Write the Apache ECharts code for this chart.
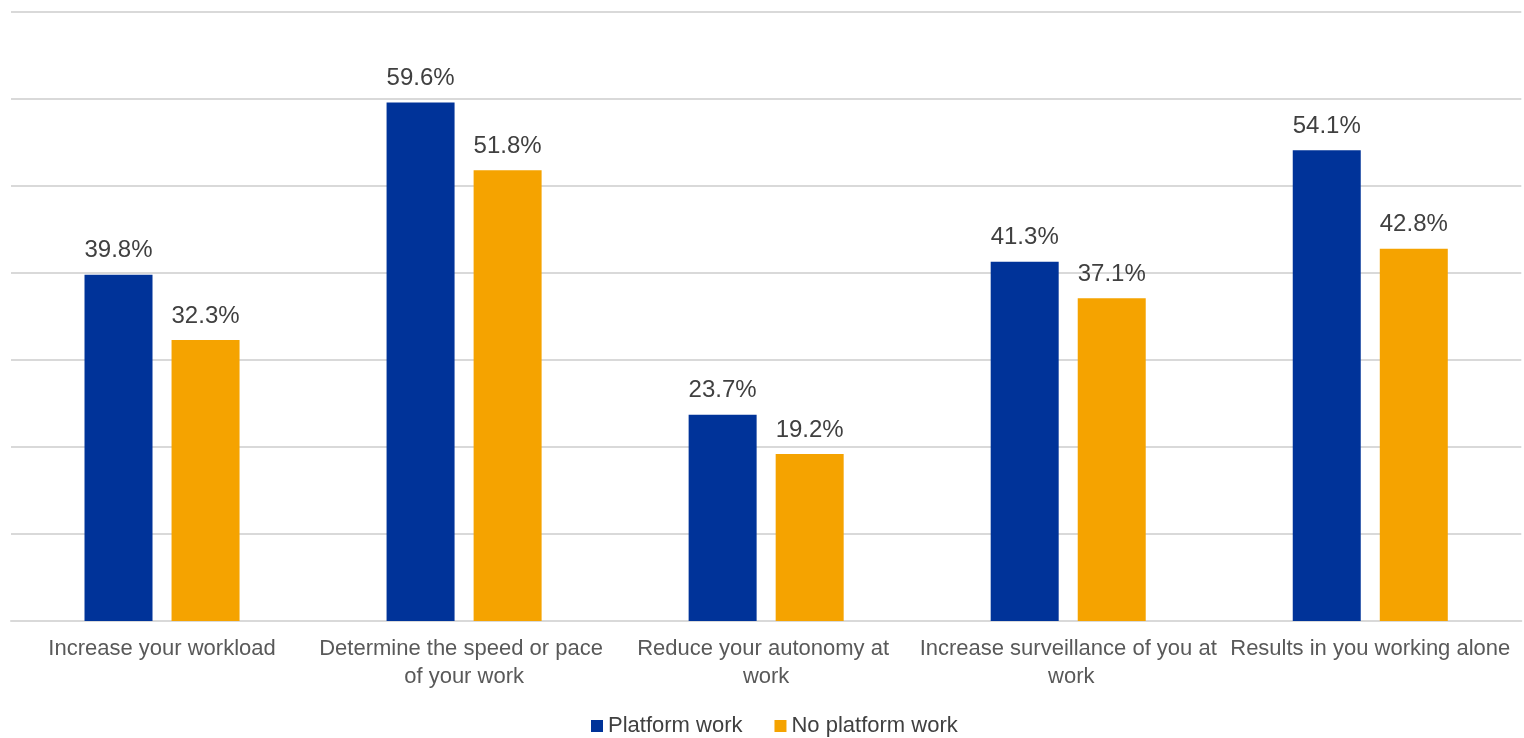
<!DOCTYPE html>
<html><head><meta charset="utf-8">
<script src="https://cdn.jsdelivr.net/npm/echarts@6/dist/echarts.min.js"></script>
<style>html,body{margin:0;padding:0;background:#fff}#c{width:1524px;height:738px}</style>
</head><body><div id="c"></div>
<script>
const categories = ["Increase your workload","Determine the speed or pace of your work","Reduce your autonomy at work","Increase surveillance of you at work","Results in you working alone"];
const platformWork = [39.8, 59.6, 23.7, 41.3, 54.1];
const noPlatformWork = [32.3, 51.8, 19.2, 37.1, 42.8];
const seriesNames = ["Platform work","No platform work"];

const chart = echarts.init(document.getElementById('c'));
const font = '"Liberation Sans", Arial, sans-serif';
const lbl = {show:true, position:'top', distance:12, color:'#404040', fontSize:24, fontFamily:font, formatter: p => p.value.toFixed(1) + '%'};
chart.setOption({
  animation:false,
  grid:{left:11, right:0, top:12, bottom:117, containLabel:false},
  legend:{bottom:-4, left:586, itemWidth:12, itemHeight:12, itemGap:32, icon:'rect',
    textStyle:{fontSize:22, color:'#404040', fontFamily:font}},
  xAxis:{type:'category', data:categories,
    axisLine:{lineStyle:{color:'#d9d9d9', width:2}}, axisTick:{show:false},
    axisLabel:{interval:0, fontSize:22, color:'#595959', fontFamily:font, width:302, overflow:'break', lineHeight:28, margin:14}},
  yAxis:{type:'value', min:0, max:70, interval:10, axisLabel:{show:false},
    splitLine:{lineStyle:{color:'#d9d9d9', width:2}}},
  series:[
    {name:seriesNames[0], type:'bar', data:platformWork, barWidth:68, barGap:'28%', itemStyle:{color:'#003399'}, label:lbl},
    {name:seriesNames[1], type:'bar', data:noPlatformWork, barWidth:68, itemStyle:{color:'#F5A300'}, label:lbl}
  ]
});
</script></body></html>
